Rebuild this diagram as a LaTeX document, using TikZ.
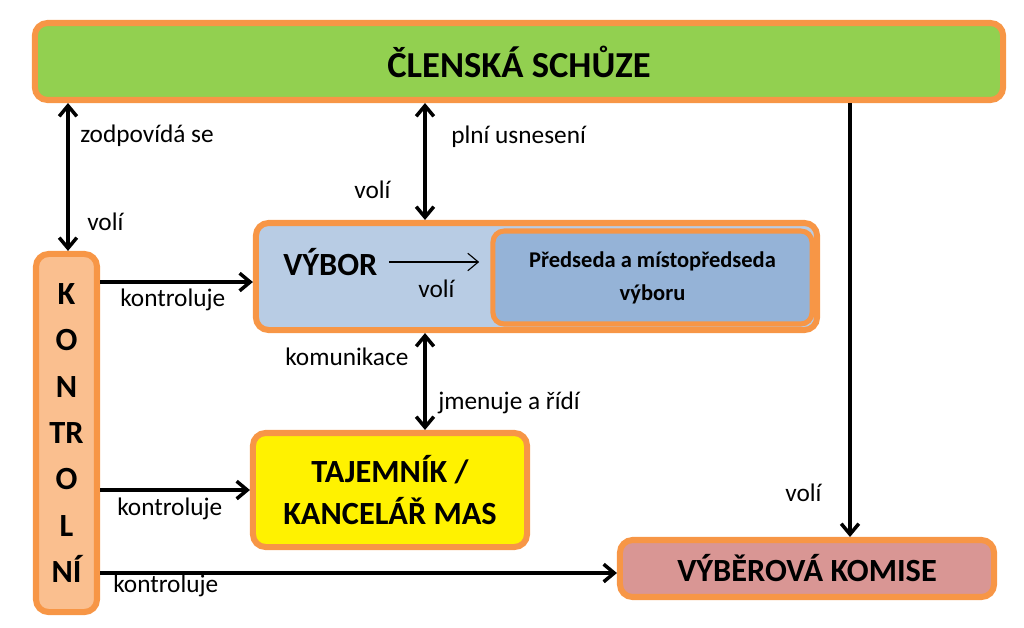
\documentclass[tikz,border=0pt]{standalone}
\usepackage{fontspec}
\setmainfont{Carlito}
\usepackage{tikz}
\usetikzlibrary{calc}
\usetikzlibrary{positioning}
\usetikzlibrary{arrows.meta}
\usepackage{xcolor}

\definecolor{boxorange}{RGB}{247,150,70}
\definecolor{csgreen}{RGB}{146,208,80}
\definecolor{kolight}{RGB}{250,191,143}
\definecolor{vyblue}{RGB}{184,204,228}
\definecolor{prblue}{RGB}{149,179,215}
\definecolor{komrose}{RGB}{217,150,148}

\begin{document}
\begin{tikzpicture}[
					x=0.025cm, y=-0.025cm,
					>={Straight Barb[length=7.5pt,width=12.5pt]},
					box/.style={rectangle, rounded corners=9pt, draw=boxorange, line width=4.3pt, inner sep=0pt},
					lbl/.style={font=\fontsize{18}{20}\selectfont, anchor=west, inner sep=0pt},
					big/.style={font=\bfseries\fontsize{23}{30}\selectfont, align=center},
					link/.style={line width=2.5pt}
					]
					\useasboundingbox (0,0) rectangle (1024,627);

					%Nodes
					\node[box, fill=csgreen, minimum width=24.2cm, minimum height=1.925cm,
						font=\bfseries\fontsize{26}{30}\selectfont] (cs) at (519,61.5) {ČLENSKÁ SCHŮZE};
					\node[box, fill=kolight, minimum width=1.525cm, minimum height=8.95cm,
						font=\bfseries\fontsize{23}{33}\selectfont, align=center] (kontrolni) at (66.5,433)
						{K\\O\\N\\TR\\O\\L\\NÍ};
					\node[box, fill=vyblue, minimum width=14.025cm, minimum height=2.675cm] (vybor) at (536.5,276.5) {};
					\node[box, fill=prblue, line width=3.6pt, rounded corners=8pt, minimum width=7.975cm, minimum height=2.325cm,
						font=\bfseries\fontsize{16}{23.5}\selectfont, align=center] (predseda) at (652.5,277.5)
						{\raisebox{-3pt}{Předseda a místopředseda}\\\raisebox{-3pt}{výboru}};
					\node[font=\bfseries\fontsize{23}{26}\selectfont, anchor=west, inner sep=0pt] (vyborname) at (283,262) {VÝBOR};
					\node[box, fill=yellow, big, minimum width=6.85cm, minimum height=2.85cm] (tajemnik) at (390,490)
						{TAJEMNÍK /\\KANCELÁŘ MAS};
					\node[box, fill=komrose, big, minimum width=9.35cm, minimum height=1.425cm] (komise) at (807,568.5)
						{VÝBĚROVÁ KOMISE};

					%Helpers
					\coordinate (colA) at (68,0);
					\coordinate (colB) at (425,0);
					\coordinate (colC) at (850,0);
					\coordinate (rowA) at (0,282);
					\coordinate (rowB) at (0,490);
					\coordinate (rowC) at (0,573);

					%Labels
					\node[lbl] (zodp)   at (80,136)  {zodpovídá se};
					\node[lbl] (volia)  at (87,222)  {volí};
					\node[lbl] (volib)  at (354,190) {volí};
					\node[lbl] (plni)   at (451,137) {plní usnesení};
					\node[lbl] (kontra) at (120,300) {kontroluje};
					\node[lbl] (volic)  at (418,289) {volí};
					\node[lbl] (komun)  at (285,357) {komunikace};
					\node[lbl] (jmen)   at (438,403) {jmenuje a řídí};
					\node[lbl] (kontrb) at (117,509) {kontroluje};
					\node[lbl] (volid)  at (785,493) {volí};
					\node[lbl] (kontrc) at (113,586) {kontroluje};

					%Lines
					\draw[<->, link] (cs.south -| colA) to (kontrolni.north -| colA);
					\draw[<->, link] (cs.south -| colB) to (vybor.north -| colB);
					\draw[->, link] (cs.south -| colC) to (komise.north -| colC);
					\draw[<->, link] (vybor.south -| colB) to (tajemnik.north -| colB);
					\draw[->, link] (kontrolni.east |- rowA) to (vybor.west |- rowA);
					\draw[->, link] (kontrolni.east |- rowB) to (tajemnik.west |- rowB);
					\draw[->, link] (kontrolni.east |- rowC) to (komise.west |- rowC);
					\draw[->, line width=0.8pt, shorten <=8pt, shorten >=8pt] (vyborname.east) to (predseda.west |- vyborname.east);
				\end{tikzpicture}
\end{document}
